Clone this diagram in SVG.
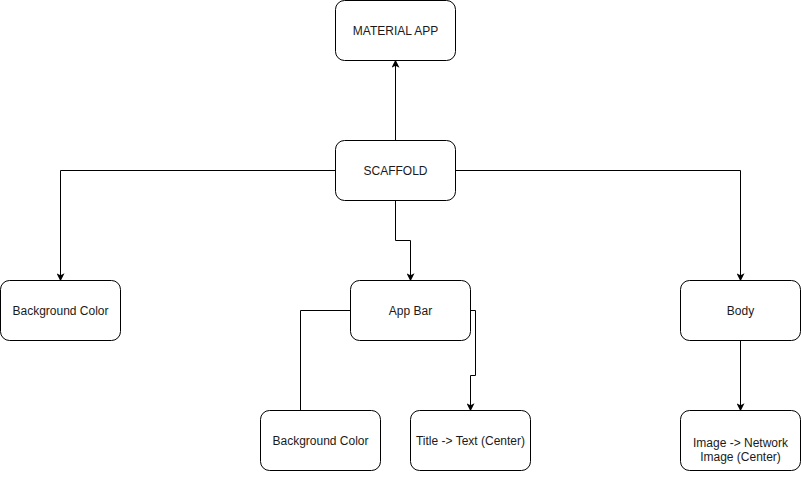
<svg xmlns="http://www.w3.org/2000/svg" width="801" height="481" viewBox="0 0 801 481">
<style>
.n rect{fill:#fff;stroke:#000;stroke-width:1}
.n text{font-family:"Liberation Sans",Arial,sans-serif;font-size:12px;fill:#1a1a1a;text-anchor:middle}
.e path{fill:none;stroke:#000;stroke-width:1}
</style>
<defs>
<marker id="ar" viewBox="0 0 10 10" refX="9" refY="5" markerWidth="8" markerHeight="8" orient="auto" markerUnits="userSpaceOnUse">
<path d="M0,0 L10,5 L0,10 L2.5,5 Z" fill="#000"/>
</marker>
</defs>
<rect width="801" height="481" fill="#fff"/>
<g class="e" id="connectors">
<path d="M395.5,140.5 V60.5" marker-end="url(#ar)"/>
<path d="M335.5,170.5 H60.5 V280.5" marker-end="url(#ar)"/>
<path d="M455.5,170.5 H740.5 V280.5" marker-end="url(#ar)"/>
<path d="M395.5,200.5 V240.5 H410.5 V280.5" marker-end="url(#ar)"/>
<path d="M350.5,310.5 H300.5 V410.5"/>
<path d="M470.5,310.5 H475.5 V375.5 H470.5 V410.5" marker-end="url(#ar)"/>
<path d="M740.5,340.5 V410.5" marker-end="url(#ar)"/>
</g>
<g class="n" id="material-app"><rect x="335.5" y="0.5" width="120" height="60" rx="9"/><text x="395.5" y="34.5">MATERIAL APP</text></g>
<g class="n" id="scaffold"><rect x="335.5" y="140.5" width="120" height="60" rx="9"/><text x="395.5" y="174.5">SCAFFOLD</text></g>
<g class="n" id="bg-color"><rect x="0.5" y="280.5" width="120" height="60" rx="9"/><text x="60.5" y="314.5">Background Color</text></g>
<g class="n" id="app-bar"><rect x="350.5" y="280.5" width="120" height="60" rx="9"/><text x="410.5" y="314.5">App Bar</text></g>
<g class="n" id="body"><rect x="680.5" y="280.5" width="120" height="60" rx="9"/><text x="740.5" y="314.5">Body</text></g>
<g class="n" id="appbar-bg"><rect x="260.5" y="410.5" width="120" height="60" rx="9"/><text x="320.5" y="444.5">Background Color</text></g>
<g class="n" id="title"><rect x="410.5" y="410.5" width="120" height="60" rx="9"/><text x="470.5" y="444.5">Title -&gt; Text (Center)</text></g>
<g class="n" id="image"><rect x="680.5" y="410.5" width="120" height="60" rx="9"/><text x="740.5" y="447">Image -&gt; Network</text><text x="740.5" y="461">Image (Center)</text></g>
</svg>
